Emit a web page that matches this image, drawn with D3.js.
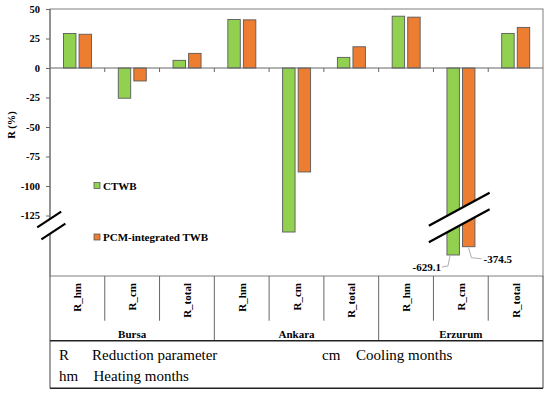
<!doctype html>
<html>
<head>
<meta charset="utf-8">
<title>Reduction parameter chart</title>
<script src="https://d3js.org/d3.v7.min.js"></script>
<style>
	body { margin: 0; background: #fff; }
	svg text { font-family: "Times New Roman", "Liberation Serif", "DejaVu Serif", serif; }
</style>
</head>
<body>
<script>

const cities = ["Bursa", "Ankara", "Erzurum"];
const params = ["R_hm", "R_cm", "R_total"];
const series = ["CTWB", "PCM-integrated TWB"];
const ctwb = [29.2, -25.6, 6.5, 41.1, -139.0, 9.0, 43.9, -629.1, 29.3];
const pcm  = [28.6, -11.0, 12.4, 40.8, -88.1, 18.0, 43.1, -374.5, 34.4];
const yTicks = [50, 25, 0, -25, -50, -75, -100, -125];
const colors = ["#92d050", "#ed7d31"];

const w = 550, h = 395;
const pLeft = 50, pRight = 543, pTop = 9, pBottom = 276;
const serif = "'Times New Roman', 'Liberation Serif', 'DejaVu Serif', serif";

const svg = d3.select("body").append("svg")
	.attr("width", w)
	.attr("height", h)
	.attr("font-family", serif);

// plain hyphen for negatives, as in the source figure
const fmt = v => String(v);

// broken y axis: linear down to about -140, compressed below
const y = d3.scaleLinear()
	.domain([50, -140, -300, -700])
	.range([pTop, 233.2, 244.3, 257.3]);

const cats = d3.range(cities.length * params.length);
const x = d3.scaleBand().domain(cats).range([pLeft, pRight]);
const xs = d3.scaleBand().domain(series).range([13.5, 41.5]).paddingInner(0.2);

const rows = cats.map(i => ({i: i, vals: [ctwb[i], pcm[i]]}));

// frame
svg.append("rect")
	.attr("x", pLeft).attr("y", pTop)
	.attr("width", pRight - pLeft).attr("height", pBottom - pTop)
	.attr("fill", "none").attr("stroke", "#7f7f7f").attr("stroke-width", 1);

// bars
const g = svg.selectAll("g.cat").data(rows).enter().append("g")
	.attr("class", "cat")
	.attr("transform", d => "translate(" + x(d.i) + ",0)");

g.selectAll("rect")
	.data(d => d.vals.map((v, k) => ({v: v, k: k})))
	.enter().append("rect")
	.attr("x", d => xs(series[d.k]))
	.attr("width", xs.bandwidth())
	.attr("y", d => Math.min(y(d.v), y(0)))
	.attr("height", d => Math.abs(y(d.v) - y(0)))
	.attr("fill", d => colors[d.k])
	.attr("stroke", "#5a5a5a")
	.attr("stroke-width", 0.9);

// zero line + category ticks
svg.append("line")
	.attr("x1", pLeft).attr("x2", pRight)
	.attr("y1", y(0)).attr("y2", y(0))
	.attr("stroke", "#666").attr("stroke-width", 1);
svg.selectAll("line.ctick").data(cats.slice(1)).enter().append("line")
	.attr("class", "ctick")
	.attr("x1", d => x(d)).attr("x2", d => x(d))
	.attr("y1", y(0)).attr("y2", y(0) + 4)
	.attr("stroke", "#666");

// y axis
const yAxis = d3.axisLeft(y).tickValues(yTicks).tickSize(4).tickPadding(6)
	.tickFormat(fmt);
const ya = svg.append("g").attr("transform", "translate(" + pLeft + ",0)").call(yAxis);
ya.attr("font-family", serif);
ya.select(".domain").remove();
ya.selectAll("line").attr("stroke", "#666");
ya.selectAll("text")
	.attr("font-size", 10.5).attr("font-weight", "bold").attr("fill", "#000");
svg.append("line")
	.attr("x1", pLeft).attr("x2", pLeft).attr("y1", pTop).attr("y2", pBottom)
	.attr("stroke", "#666");

svg.append("text")
	.attr("transform", "translate(15," + 125 + ") rotate(-90)")
	.attr("text-anchor", "middle")
	.attr("font-size", 10.5).attr("font-weight", "bold")
	.text("R (%)");

// break marks
function breakMark(cx, cy, half, slope, gap, dx) {
	const a = [cx - half, cy + half * slope];
	const b = [cx + half, cy - half * slope];
	svg.append("polygon")
		.attr("points", [a, b, [b[0] + dx, b[1] + gap], [a[0] + dx, a[1] + gap]].map(p => p.join(",")).join(" "))
		.attr("fill", "#fff");
	[0, 1].forEach(j => {
		svg.append("line")
			.attr("x1", a[0] + j * dx).attr("y1", a[1] + j * gap)
			.attr("x2", b[0] + j * dx).attr("y2", b[1] + j * gap)
			.attr("stroke", "#000").attr("stroke-width", 2.2);
	});
}
breakMark(pLeft - 0.8, 219.5, 12, 0.66, 12, 4.2);
breakMark(x(7) + x.bandwidth() / 2 - 1.6, 209.2, 30.4, 0.544, 16.5, 0);

// value labels for the broken bars
const bx = x(7);
svg.append("polyline")
	.attr("points", [[bx + xs(series[0]) + 3, y(ctwb[7]) + 1], [bx + xs(series[0]) + 1, y(ctwb[7]) + 11], [bx + xs(series[0]) - 5, y(ctwb[7]) + 12]].map(p => p.join(",")).join(" "))
	.attr("fill", "none").attr("stroke", "#999").attr("stroke-width", 0.8);
svg.append("polyline")
	.attr("points", [[bx + xs(series[1]) + 6, y(pcm[7]) + 1], [bx + xs(series[1]) + 9, y(pcm[7]) + 11], [bx + xs(series[1]) + 19, y(pcm[7]) + 12]].map(p => p.join(",")).join(" "))
	.attr("fill", "none").attr("stroke", "#999").attr("stroke-width", 0.8);
svg.append("text")
	.attr("x", bx + xs(series[0]) - 6).attr("y", y(ctwb[7]) + 16)
	.attr("text-anchor", "end")
	.attr("font-size", 11).attr("font-weight", "bold")
	.text(ctwb[7].toFixed(1));
svg.append("text")
	.attr("x", bx + xs(series[1]) + 21).attr("y", y(pcm[7]) + 16)
	.attr("font-size", 11).attr("font-weight", "bold")
	.text(pcm[7].toFixed(1));

// legend
const leg = svg.selectAll("g.leg").data(series).enter().append("g")
	.attr("class", "leg")
	.attr("transform", (d, k) => "translate(94," + (185.5 + k * 51.5) + ")");
leg.append("rect")
	.attr("x", 0).attr("y", -3).attr("width", 6).attr("height", 6)
	.attr("fill", (d, k) => colors[k]).attr("stroke", "#5a5a5a").attr("stroke-width", 0.8);
leg.append("text")
	.attr("x", 9).attr("y", 4)
	.attr("font-size", 11).attr("font-weight", "bold")
	.text(d => d);

// category table below the plot
const tBot = 340.7, gBot = 388.3;
svg.selectAll("line.sep").data(cats.slice(1)).enter().append("line")
	.attr("class", "sep")
	.attr("x1", d => x(d)).attr("x2", d => x(d))
	.attr("y1", pBottom).attr("y2", d => d % 3 === 0 ? tBot : 320.7)
	.attr("stroke", "#666");
svg.append("line")
	.attr("x1", pLeft).attr("x2", pLeft).attr("y1", pBottom).attr("y2", gBot)
	.attr("stroke", "#444");
svg.append("line")
	.attr("x1", pRight).attr("x2", pRight).attr("y1", pBottom).attr("y2", gBot)
	.attr("stroke", "#444");
svg.append("line")
	.attr("x1", pLeft).attr("x2", pRight).attr("y1", tBot).attr("y2", tBot)
	.attr("stroke", "#222").attr("stroke-width", 1.4);
svg.append("line")
	.attr("x1", pLeft).attr("x2", pRight).attr("y1", gBot).attr("y2", gBot)
	.attr("stroke", "#222").attr("stroke-width", 1.4);

svg.selectAll("text.par").data(cats).enter().append("text")
	.attr("class", "par")
	.attr("transform", d => "translate(" + (x(d) + x.bandwidth() / 2 + 4) + ",283) rotate(-90)")
	.attr("text-anchor", "end")
	.attr("font-size", 11).attr("font-weight", "bold")
	.text(d => params[d % 3]);

svg.selectAll("text.city").data(cities).enter().append("text")
	.attr("class", "city")
	.attr("x", (d, k) => x(k * 3 + 1) + x.bandwidth() / 2)
	.attr("y", 337.5)
	.attr("text-anchor", "middle")
	.attr("font-size", 11).attr("font-weight", "bold")
	.text(d => d);

// glossary
const gloss = [
	{a: "R", b: "Reduction parameter", x: 59, x2: 92, y: 360},
	{a: "cm", b: "Cooling months", x: 322, x2: 356, y: 360},
	{a: "hm", b: "Heating months", x: 59, x2: 93.5, y: 381}
];
gloss.forEach(d => {
	svg.append("text").attr("x", d.x).attr("y", d.y).attr("font-size", 15).text(d.a);
	svg.append("text").attr("x", d.x2).attr("y", d.y).attr("font-size", 15).text(d.b);
});

</script>
</body>
</html>
